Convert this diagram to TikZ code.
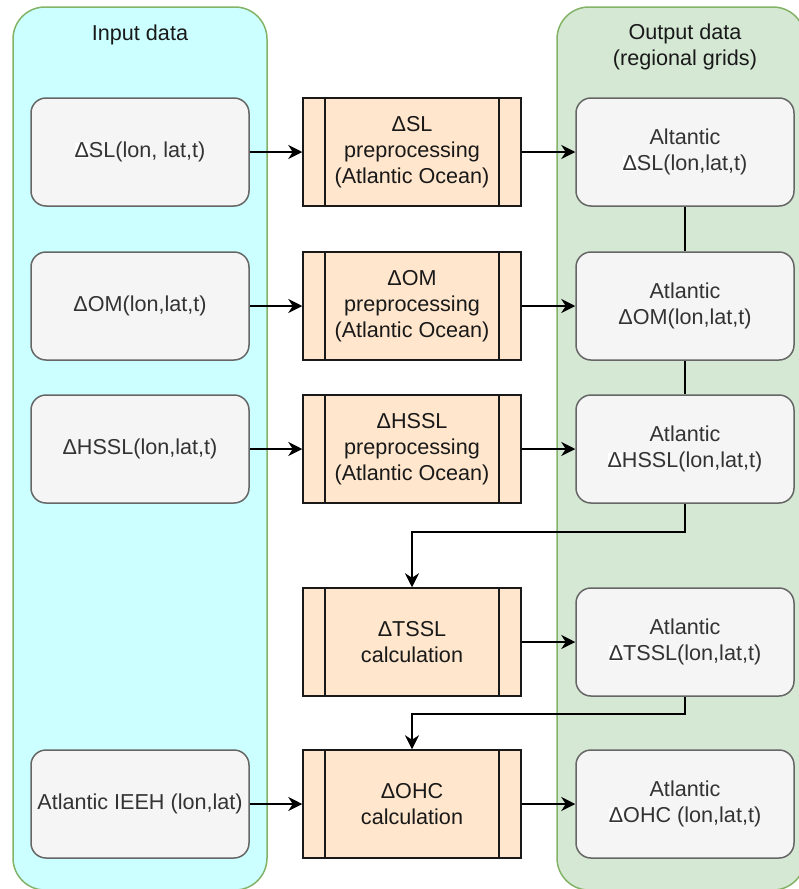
\documentclass[tikz,border=0pt]{standalone}
\usepackage{fontspec}
\setmainfont{Liberation Sans}
\usetikzlibrary{arrows.meta}
\definecolor{inbg}{HTML}{CCFFFF}
\definecolor{outbg}{HTML}{D5E8D4}
\definecolor{contline}{HTML}{82B366}
\definecolor{graybg}{HTML}{F5F5F5}
\definecolor{grayline}{HTML}{666666}
\definecolor{graytext}{HTML}{333333}
\definecolor{procbg}{HTML}{FFE6CC}
\newcommand\wdelta{{\setlength{\fboxsep}{0pt}\colorbox{white}{Δ}}}
\begin{document}
\begin{tikzpicture}[x=1pt,y=-1pt,
  font=\fontsize{21.6}{26}\selectfont,
  container/.style={draw=contline, line width=1.5pt, rounded corners=32pt},
  databox/.style={draw=grayline, fill=graybg, text=graytext, line width=1.5pt, rounded corners=15pt,
    minimum width=218pt, minimum height=108pt, inner sep=0pt, align=center},
  procbox/.style={draw=black!90, fill=procbg, text=black!90, line width=1.5pt,
    minimum width=218pt, minimum height=108pt, inner sep=0pt, align=center,
    path picture={
      \draw[black!90, line width=1.5pt] ([xshift=22pt]path picture bounding box.north west) -- ([xshift=22pt]path picture bounding box.south west);
      \draw[black!90, line width=1.5pt] ([xshift=-22pt]path picture bounding box.north east) -- ([xshift=-22pt]path picture bounding box.south east);
    }},
  arr/.style={draw=black, line width=1.5pt, -{Stealth[length=14pt,width=14pt,inset=4.5pt]}},
  plain/.style={draw=black, line width=1.5pt},
  title/.style={inner sep=0pt, align=center, text=black!90}
]
\useasboundingbox (0,0) rectangle (798,889);
% containers
\draw[container, fill=inbg] (13,7) rectangle (267,890);
\draw[container, fill=outbg] (557,7) rectangle (805,890);
\node[title] (tin) at (140,35) {Input data};
\node[title] (tout) at (685,47) {Output data\\(regional grids)};
% input boxes
\node[databox] (i1) at (140,152) {\wdelta SL(lon, lat,t)};
\node[databox] (i2) at (140,306) {ΔOM(lon,lat,t)};
\node[databox] (i3) at (140,449) {ΔHSSL(lon,lat,t)};
\node[databox] (i4) at (140,804) {Atlantic IEEH (lon,lat)};
% process boxes
\node[procbox] (p1) at (412,152) {ΔSL\\preprocessing\\(Atlantic Ocean)};
\node[procbox] (p2) at (412,306) {ΔOM\\preprocessing\\(Atlantic Ocean)};
\node[procbox] (p3) at (412,449) {ΔHSSL\\preprocessing\\(Atlantic Ocean)};
\node[procbox] (p4) at (412,642) {ΔTSSL\\calculation};
\node[procbox] (p5) at (412,804) {ΔOHC\\calculation};
% output boxes
\node[databox] (o1) at (685,152) {Altantic\\\wdelta SL(lon,lat,t)};
\node[databox] (o2) at (685,306) {Atlantic\\ΔOM(lon,lat,t)};
\node[databox] (o3) at (685,449) {Atlantic\\\wdelta HSSL(lon,lat,t)};
\node[databox] (o4) at (685,642) {Atlantic\\\wdelta TSSL(lon,lat,t)};
\node[databox] (o5) at (685,804) {Atlantic\\\wdelta OHC (lon,lat,t)};
% connectors
\draw[arr] (i1) -- (p1);
\draw[arr] (i2) -- (p2);
\draw[arr] (i3) -- (p3);
\draw[arr] (i4) -- (p5);
\draw[arr] (p1) -- (o1);
\draw[arr] (p2) -- (o2);
\draw[arr] (p3) -- (o3);
\draw[arr] (p4) -- (o4);
\draw[arr] (p5) -- (o5);
\draw[plain] (o1) -- (o2);
\draw[plain] (o2) -- (o3);
\coordinate (k1) at (412,532);
\coordinate (k2) at (412,714);
\draw[arr] (o3.south) |- (k1) -- (p4.north);
\draw[arr] (o4.south) |- (k2) -- (p5.north);
\end{tikzpicture}
\end{document}
